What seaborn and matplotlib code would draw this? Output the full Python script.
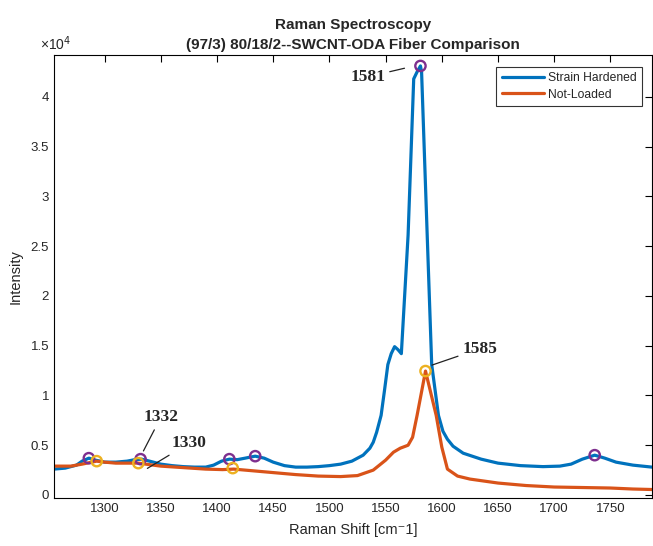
import numpy as np
import pandas as pd
import matplotlib
matplotlib.use("Agg")
import matplotlib.pyplot as plt
import seaborn as sns
from matplotlib.ticker import FuncFormatter, MultipleLocator

# ---- data (intensity in counts) ----
sh_x = [1255, 1265, 1275, 1280, 1286, 1292, 1300, 1310, 1320, 1327, 1333, 1340, 1350, 1360,
        1370, 1380, 1390, 1397, 1404, 1411, 1418, 1425, 1434, 1442, 1450, 1460, 1470, 1480,
        1490, 1500, 1510, 1520, 1530, 1536, 1539, 1542, 1546, 1549, 1552, 1555, 1558, 1561,
        1564, 1570, 1575, 1578, 1581, 1582, 1587, 1591, 1597, 1601, 1605, 1610, 1619, 1635,
        1650, 1670, 1690, 1705, 1715, 1725, 1736, 1745, 1755, 1770, 1787]
sh_y = [2600, 2700, 3000, 3400, 3700, 3500, 3300, 3300, 3400, 3550, 3600, 3400, 3100, 2950,
        2850, 2800, 2800, 3000, 3400, 3600, 3550, 3700, 3900, 3700, 3300, 2950, 2800, 2800,
        2850, 2950, 3100, 3400, 4000, 4700, 5300, 6300, 8000, 10500, 13100, 14200, 14900, 14600,
        14200, 26100, 41800, 42500, 43100, 42500, 26100, 13100, 8000, 6400, 5600, 4900, 4200, 3600,
        3200, 2950, 2850, 2900, 3100, 3600, 4000, 3700, 3300, 3000, 2800]

nl_x = [1255, 1270, 1280, 1293, 1300, 1310, 1320, 1330, 1340, 1350, 1370, 1390, 1405, 1415,
        1430, 1450, 1470, 1490, 1510, 1525, 1539, 1550, 1557, 1563, 1570, 1574, 1578, 1585.5,
        1595, 1600, 1605, 1614, 1625, 1650, 1675, 1700, 1725, 1750, 1770, 1787]
nl_y = [2900, 2900, 3100, 3400, 3300, 3200, 3200, 3200, 3050, 2900, 2750, 2600, 2550, 2600,
        2450, 2250, 2050, 1900, 1850, 1950, 2500, 3500, 4300, 4700, 5000, 5800, 8000, 12450,
        8000, 4800, 2600, 1900, 1600, 1200, 950, 800, 750, 700, 600, 550]

sh_pk_x = [1286, 1332, 1411, 1434, 1581, 1736]
sh_pk_y = [3700, 3600, 3600, 3900, 43100, 4000]
nl_pk_x = [1293, 1330, 1414, 1585.5]
nl_pk_y = [3400, 3200, 2700, 12450]

series_names = ["Strain Hardened", "Not-Loaded"]
colors = ["#0072BD", "#D95319"]

df = pd.concat([
    pd.DataFrame({"shift": sh_x, "intensity": sh_y, "series": series_names[0]}),
    pd.DataFrame({"shift": nl_x, "intensity": nl_y, "series": series_names[1]}),
])

sns.set_theme(style="white")
plt.rcParams['font.family'] = ['Liberation Sans', 'DejaVu Sans']

fig = plt.figure(figsize=(6.53, 5.46), dpi=100)
ax = fig.add_axes([0.0827, 0.0874, 0.9158, 0.8119])

sns.lineplot(data=df, x="shift", y="intensity", hue="series", palette=colors,
             hue_order=series_names, linewidth=2.3, ax=ax, sort=False, estimator=None)

sns.scatterplot(x=sh_pk_x, y=sh_pk_y, ax=ax, marker="o", s=55, facecolor="none",
                edgecolor="#7E2F8E", linewidth=1.7, legend=False, zorder=5)
sns.scatterplot(x=nl_pk_x, y=nl_pk_y, ax=ax, marker="o", s=55, facecolor="none",
                edgecolor="#EDB120", linewidth=1.7, legend=False, zorder=5)

ax.set_xlim(1255, 1787)
ax.set_ylim(-330, 44200)
ax.xaxis.set_major_locator(MultipleLocator(50))
ax.yaxis.set_major_locator(MultipleLocator(5000))
ax.yaxis.set_major_formatter(FuncFormatter(lambda v, p: f"{v/1e4:g}"))

for s in ax.spines.values():
    s.set_color("black")
    s.set_linewidth(0.8)
ax.tick_params(direction="in", length=5, width=0.8, colors="black",
               labelcolor="#262626", labelsize=9.5, top=True, right=True)

ax.set_xlabel("Raman Shift [cm⁻1]", fontsize=10.5, color="#262626", labelpad=6)
ax.set_ylabel("Intensity", fontsize=10.5, color="#262626", labelpad=6)
ax.set_title("Raman Spectroscopy\n(97/3) 80/18/2--SWCNT-ODA Fiber Comparison",
             fontsize=11, fontweight="bold", pad=4, linespacing=1.6)
ax.text(0.028, 1.005, "×10$^4$", transform=ax.transAxes, fontsize=10, color="#262626",
        ha="right", va="bottom")

leg = ax.legend(loc="upper right", fontsize=8.7, frameon=True, fancybox=False,
                edgecolor="black", handlelength=3.5, handletextpad=0.3,
                labelspacing=0.35, borderaxespad=0, borderpad=0.45,
                bbox_to_anchor=(0.983, 0.973))
leg.get_frame().set_linewidth(0.8)
for lh in leg.get_lines():
    lh.set_linewidth(2.3)

# annotations with leader lines
ann_font = dict(family=["Liberation Serif", "DejaVu Serif"], fontweight="bold", fontsize=12.5)
arrow = dict(arrowstyle="-", color="#222222", lw=0.9, shrinkA=1, shrinkB=1)
ax.annotate("1581", xy=(1568, 42900), xytext=(1534, 42000), textcoords="data",
            ha="center", va="center", arrowprops=arrow, **ann_font)
ax.annotate("1585", xy=(1590, 13000), xytext=(1634, 14700), textcoords="data",
            ha="center", va="center", arrowprops=arrow, **ann_font)
ax.annotate("1332", xy=(1334, 4300), xytext=(1350, 7800), textcoords="data",
            ha="center", va="center", arrowprops=arrow, **ann_font)
ax.annotate("1330", xy=(1337, 2600), xytext=(1375, 5200), textcoords="data",
            ha="center", va="center", arrowprops=arrow, **ann_font)

fig.savefig("out.png", dpi=100)
